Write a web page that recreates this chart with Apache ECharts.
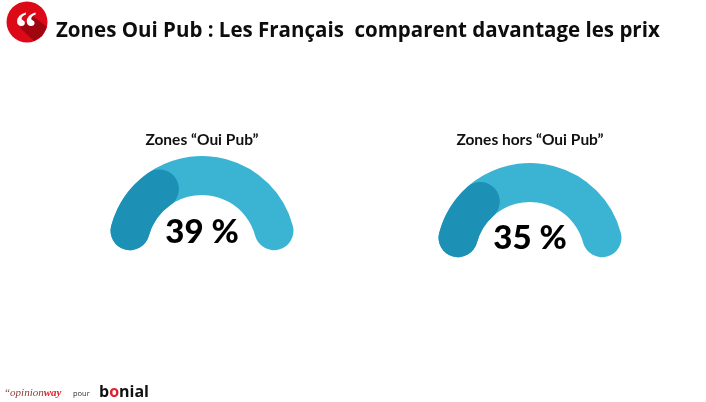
<!DOCTYPE html>
<html>
<head>
<meta charset="utf-8">
<style>
  html, body { margin: 0; padding: 0; background: #fff; }
  #mainChart { width: 706px; height: 402px; }
</style>
<script src="https://cdn.jsdelivr.net/npm/echarts@6/dist/echarts.min.js"></script>
</head>
<body>
<div id="mainChart"></div>
<script>
var zones = [
  { name: 'Zones “Oui Pub”', value: 39, center: [202, 250], titleY: -110, valueY: -18 },
  { name: 'Zones hors “Oui Pub”', value: 35, center: [530, 257], titleY: -117, valueY: -19 }
];

var series = zones.map(function (z) {
  return {
    type: 'gauge',
    center: z.center,
    radius: 94,
    startAngle: 165,
    endAngle: 15,
    min: 16,
    max: 102,
    pointer: { show: false },
    anchor: { show: false },
    axisTick: { show: false },
    splitLine: { show: false },
    axisLabel: { show: false },
    axisLine: {
      roundCap: true,
      lineStyle: { width: 39, color: [[1, '#3bb4d3']] }
    },
    progress: {
      show: true,
      roundCap: true,
      width: 39,
      itemStyle: { color: '#1c90b5' }
    },
    title: {
      offsetCenter: [0, z.titleY],
      fontFamily: 'Lato',
      fontWeight: 'bold',
      fontSize: 15.5,
      color: '#111'
    },
    detail: {
      offsetCenter: [0, z.valueY],
      formatter: '{value} %',
      fontFamily: 'Lato',
      fontWeight: 900,
      fontSize: 33,
      color: '#000'
    },
    data: [{ value: z.value, name: z.name }]
  };
});

var option = {
  backgroundColor: '#fff',
  animation: false,
  title: {
    text: 'Zones Oui Pub : Les Français  comparent davantage les prix',
    left: 56,
    top: 21,
    padding: 0,
    textStyle: { fontFamily: 'Open Sans', fontWeight: 'bold', fontSize: 20.5, color: '#0d0d0d' }
  },
  graphic: [
    { type: 'circle', shape: { cx: 27, cy: 22, r: 20.5 }, style: { fill: '#dc0a17' } },
    {
      type: 'polygon',
      shape: { points: [[20, 28], [33, 16], [47, 27], [42, 36], [34, 41]] },
      style: { fill: '#a00610' }
    },
    {
      type: 'text', left: 15, top: 9,
      style: { text: '“', font: 'bold 44px "Liberation Serif"', fill: '#fff' }
    },
    {
      type: 'text', left: 4, top: 388,
      style: {
        text: '{a|“opinion}{b|way}',
        rich: {
          a: { font: 'italic 11px "Liberation Serif"', fill: '#8c3a3a' },
          b: { font: 'italic bold 11px "Liberation Serif"', fill: '#e0202c' }
        }
      }
    },
    {
      type: 'text', left: 73, top: 390,
      style: { text: 'pour', font: '7.5px "Open Sans"', fill: '#333' }
    },
    {
      type: 'text', left: 99, top: 384,
      style: {
        text: '{a|b}{b|o}{a|nial}',
        rich: {
          a: { font: 'bold 16px "Open Sans"', fill: '#111' },
          b: { font: 'bold 16px "Open Sans"', fill: '#e0202c' }
        }
      }
    }
  ],
  series: series
};

var myChart = echarts.init(document.getElementById('mainChart'));
myChart.setOption(option);
</script>
</body>
</html>
